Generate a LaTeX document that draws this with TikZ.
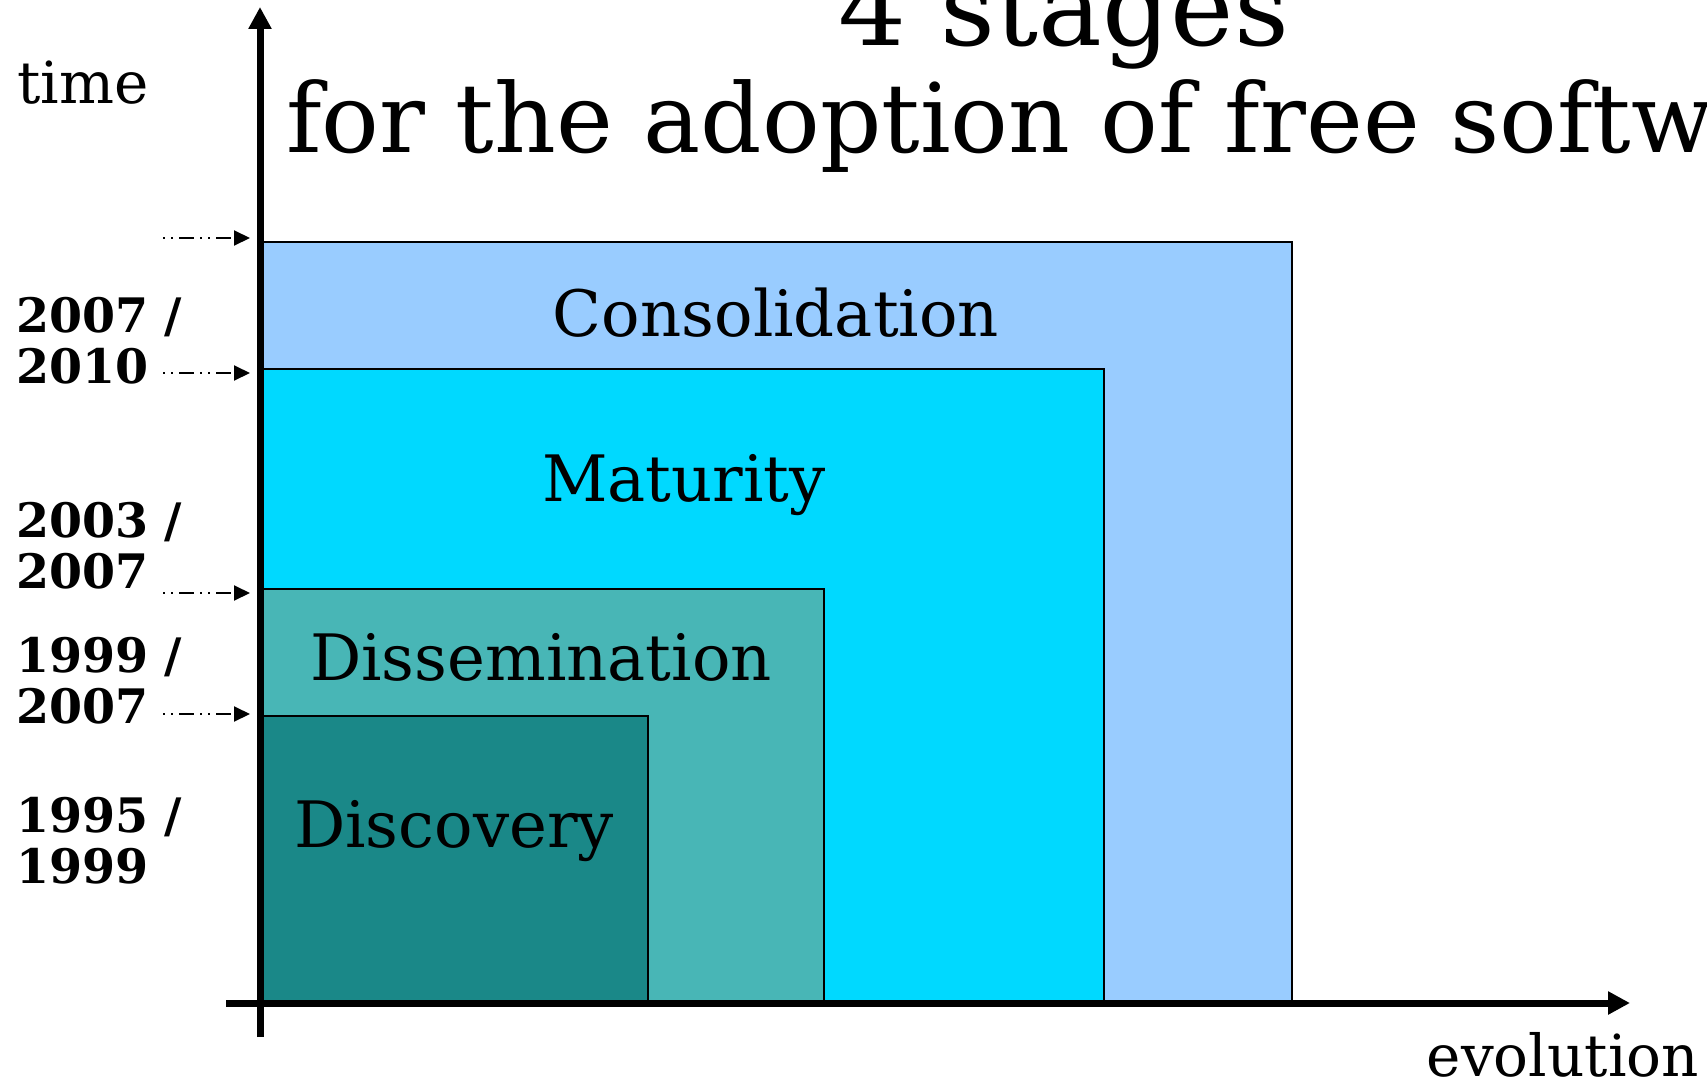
\documentclass[tikz,border=0pt]{standalone}
\usepackage{fontspec}
\setmainfont{DejaVu Serif}
\usetikzlibrary{arrows.meta}
\definecolor{consol}{HTML}{99CCFF}
\definecolor{matur}{HTML}{00D9FF}
\definecolor{dissem}{HTML}{48B6B6}
\definecolor{discov}{HTML}{1A8888}
\tikzset{
  stagebox/.style={draw=black,line width=1.5pt},
  stagelabel/.style={inner sep=0pt,anchor=base,font=\fontsize{64}{70}\selectfont},
  yearlabel/.style={inner sep=0pt,anchor=base west,align=left,font=\bfseries\fontsize{47.5}{51}\selectfont},
  axislabel/.style={inner sep=0pt,font=\fontsize{58}{62}\selectfont},
  titletext/.style={inner sep=0pt},
  axisline/.style={line width=7pt,-{Triangle[length=22pt,width=22pt]}},
  datearrow/.style={line width=2pt,dash pattern=on 2pt off 6pt on 2pt off 6pt on 15pt off 6pt,-{Triangle[length=16pt,width=15pt]}}
}
\begin{document}
\begin{tikzpicture}[x=1pt,y=-1pt]
\useasboundingbox (0,0) rectangle (1707,1081);
% stage rectangles
\draw[stagebox,fill=consol] (262,242) rectangle (1292,1002);
\draw[stagebox,fill=matur] (262,369) rectangle (1104,1002);
\draw[stagebox,fill=dissem] (262,589) rectangle (824,1002);
\draw[stagebox,fill=discov] (262,716) rectangle (648,1002);
\node[stagelabel] (consolidation) at (776,336) {Consolidation};
\node[stagelabel] (maturity) at (684,501) {Maturity};
\node[stagelabel] (dissemination) at (541,680) {Dissemination};
\node[stagelabel] (discovery) at (454,847) {Discovery};
% axes
\coordinate (vbot) at (260,1037);
\coordinate (vtop) at (260,7);
\coordinate (hleft) at (226,1003);
\coordinate (hright) at (1630,1003);
\draw[axisline] (vbot) -- (vtop);
\draw[axisline] (hleft) -- (hright);
\node[axislabel,anchor=base west] (time) at (17,103) {time};
\node[axislabel,anchor=base east] (evolution) at (1699,1076) {evolution};
% title
\node[titletext,anchor=base,font=\fontsize{107}{110}\selectfont] (title1) at (1064,46) {4 stages};
\node[titletext,anchor=base west,font=\fontsize{96}{105}\selectfont] (title2) at (286,152) {for the adoption of free software};
% year labels
\node[yearlabel] (y1) at (16,383) {2007 /\\2010};
\node[yearlabel] (y2) at (16,588) {2003 /\\2007};
\node[yearlabel] (y3) at (16,723) {1999 /\\2007};
\node[yearlabel] (y4) at (16,883) {1995 /\\1999};
% date arrows
\coordinate (a1s) at (163,238); \coordinate (a1e) at (250,238);
\coordinate (a2s) at (163,373); \coordinate (a2e) at (250,373);
\coordinate (a3s) at (163,593); \coordinate (a3e) at (250,593);
\coordinate (a4s) at (163,714); \coordinate (a4e) at (250,714);
\draw[datearrow] (a1s) -- (a1e);
\draw[datearrow] (a2s) -- (a2e);
\draw[datearrow] (a3s) -- (a3e);
\draw[datearrow] (a4s) -- (a4e);
\end{tikzpicture}
\end{document}
